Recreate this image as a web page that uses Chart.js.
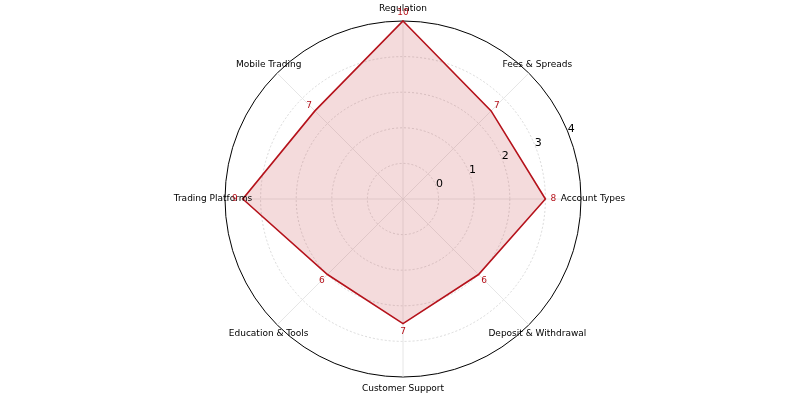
<!DOCTYPE html>
<html>
<head>
<meta charset="utf-8">
<script src="https://cdn.jsdelivr.net/npm/chart.js@4.4.0/dist/chart.umd.min.js"></script>
<style>
  html, body { margin: 0; padding: 0; background: #fff; }
  #wrap { width: 800px; height: 400px; }
</style>
</head>
<body>
<div id="wrap"><canvas id="radarChart"></canvas></div>
<script>
// clockwise from the top
const categories = ["Regulation", "Fees & Spreads", "Account Types", "Deposit & Withdrawal",
  "Customer Support", "Education & Tools", "Trading Platforms", "Mobile Trading"];
const scores = [10, 7, 8, 6, 7, 6, 9, 7];
const gridValues = [2, 4, 6, 8, 10];
const tickLabels = ["0", "1", "2", "3", "4"];

const lineColor = "#b5121b";

const overlayPlugin = {
  id: "overlay",
  afterDatasetsDraw(chart) {
    const ctx = chart.ctx;
    const r = chart.scales.r;
    const cx = r.xCenter, cy = r.yCenter;
    const n = categories.length;
    ctx.save();
    ctx.textAlign = "center";
    ctx.textBaseline = "middle";

    // category labels
    ctx.font = "9px 'DejaVu Sans'";
    ctx.fillStyle = "#000";
    categories.forEach((c, i) => {
      const a = -Math.PI / 2 + (i * 2 * Math.PI) / n;
      const d = r.drawingArea + 12;
      ctx.fillText(c, cx + d * Math.cos(a), cy + d * Math.sin(a));
    });

    // value labels
    ctx.fillStyle = lineColor;
    scores.forEach((v, i) => {
      const a = -Math.PI / 2 + (i * 2 * Math.PI) / n;
      const d = r.getDistanceFromCenterForValue(v) + 8;
      ctx.fillText(String(v), cx + d * Math.cos(a), cy + d * Math.sin(a));
    });

    // radial tick labels along 22.5 degrees
    ctx.font = "11px 'DejaVu Sans'";
    ctx.fillStyle = "#000";
    const ta = -22.5 * Math.PI / 180;
    gridValues.forEach((v, i) => {
      const d = r.getDistanceFromCenterForValue(v) + 4;
      ctx.fillText(tickLabels[i], cx + d * Math.cos(ta), cy + d * Math.sin(ta));
    });
    ctx.restore();
  },
};

new Chart(document.getElementById("radarChart"), {
  type: "radar",
  data: {
    labels: categories,
    datasets: [{
      data: scores,
      borderColor: lineColor,
      backgroundColor: "rgba(190, 40, 50, 0.17)",
      borderWidth: 1.6,
      pointRadius: 0,
      fill: true,
      tension: 0,
    }],
  },
  options: {
    responsive: true,
    maintainAspectRatio: false,
    animation: false,
    layout: { padding: { top: 21, bottom: 23, left: 6, right: 0 } },
    plugins: { legend: { display: false }, tooltip: { enabled: false } },
    scales: {
      r: {
        min: 0,
        max: 10,
        ticks: { stepSize: 2, display: false },
        pointLabels: { display: false },
        grid: {
          circular: true,
          color: (c) => (c.tick && c.tick.value === 10 ? "#000" : "#d0d0d0"),
          lineWidth: (c) => (c.tick && c.tick.value === 10 ? 1 : 0.8),
        },
        border: {
          dash: (c) => (c.tick && c.tick.value === 10 ? [] : [2, 2]),
        },
        angleLines: { color: "#e0e0e0", lineWidth: 0.8 },
      },
    },
  },
  plugins: [overlayPlugin],
});
</script>
</body>
</html>
